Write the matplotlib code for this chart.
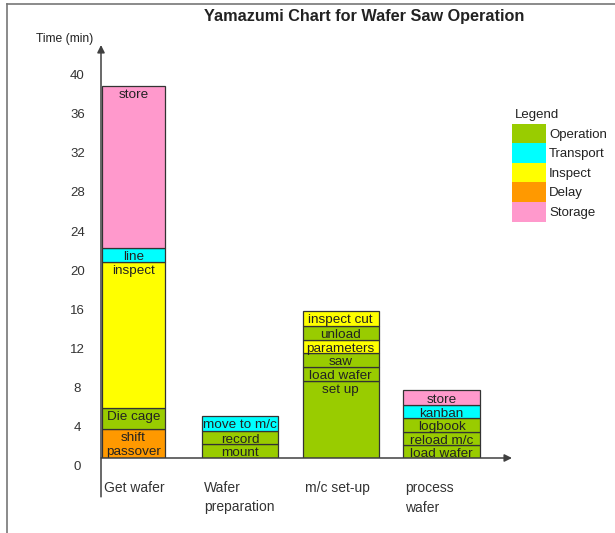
import matplotlib as mpl
import matplotlib.pyplot as plt
from matplotlib.lines import Line2D
from matplotlib.patches import Rectangle
from matplotlib.transforms import ScaledTranslation

mpl.rcParams.update(
    {
        "font.family": ["Liberation Sans", "DejaVu Sans"],
        "font.size": 10,
        "text.color": "#222222",
    }
)

# --- data (bottom -> top of each stack) ------------------------------------
categories = ["Get wafer", "Wafer\npreparation", "m/c set-up", "process\nwafer"]
steps = [
    ["shift\npassover", "Die cage", "inspect", "line", "store"],
    ["mount", "record", "move to m/c"],
    ["set up", "load wafer", "saw", "parameters", "unload", "inspect cut"],
    ["load wafer", "reload m/c", "logbook", "kanban", "store"],
]
kinds = [
    ["Delay", "Operation", "Inspect", "Transport", "Storage"],
    ["Operation", "Operation", "Transport"],
    ["Operation", "Operation", "Operation", "Inspect", "Operation", "Inspect"],
    ["Operation", "Operation", "Operation", "Transport", "Storage"],
]
minutes = [
    [3.0, 2.1, 14.9, 1.5, 16.5],
    [1.4, 1.4, 1.5],
    [7.9, 1.4, 1.45, 1.3, 1.45, 1.55],
    [1.35, 1.35, 1.35, 1.35, 1.5],
]
y_ticks = [0, 4, 8, 12, 16, 20, 24, 28, 32, 36, 40]
legend_kinds = ["Operation", "Transport", "Inspect", "Delay", "Storage"]

COLORS = {
    "Operation": "#99cc00",
    "Transport": "#00ffff",
    "Inspect": "#ffff00",
    "Delay": "#ff9900",
    "Storage": "#ff99cc",
}
BAR_W = [0.63, 0.756, 0.756, 0.766]
EDGE = "#333333"

W, H = 615, 533
fig = plt.figure(figsize=(W / 100, H / 100), dpi=100)
# axes box in pixels: x 101..512, baseline y=458, arrow top y=45
ax = fig.add_axes([101 / W, (H - 458) / H, (512 - 101) / W, (458 - 45) / H])
ax.set_xlim(-0.007, 4.083)
ax.set_ylim(0, 42.2)
for s in ax.spines.values():
    s.set_visible(False)

# stacked segments
for i, (labs, ks, vals) in enumerate(zip(steps, kinds, minutes)):
    bottom = 0.0
    for lab, k, v in zip(labs, ks, vals):
        ax.bar(i, v, width=BAR_W[i], bottom=bottom, align="edge",
               color=COLORS[k], edgecolor=EDGE, linewidth=0.9, zorder=2)
        ax.annotate(lab, xy=(i + BAR_W[i] / 2, bottom + v), xytext=(0, -2.2),
                    textcoords="offset points", ha="center", va="top",
                    fontsize=9.7, linespacing=1.3, zorder=3)
        bottom += v

# axis arrows
arrow = dict(arrowstyle="-|>", color="#404040", lw=1.1, shrinkA=0, shrinkB=0,
             mutation_scale=11)
ax.annotate("", xy=(0, 1), xytext=(0, -0.094), xycoords="axes fraction",
            arrowprops=arrow, annotation_clip=False)
ax.annotate("", xy=(1, 0), xytext=(0, 0), xycoords="axes fraction",
            arrowprops=arrow, annotation_clip=False)

# y ticks: labels sit a little below their value, as in the original
ax.set_yticks(y_ticks)
ax.set_xticks([])
ax.tick_params(axis="y", length=0, pad=17, labelsize=9.5, labelcolor="#333333")
shift = ScaledTranslation(0, -8 / 100, fig.dpi_scale_trans)
for lbl in ax.get_yticklabels():
    lbl.set_horizontalalignment("center")
    lbl.set_transform(lbl.get_transform() + shift)

# category labels under each stack, left aligned to the bar
for i, cat in enumerate(categories):
    ax.annotate(cat, xy=(i, 0), xycoords=("data", "axes fraction"),
                xytext=(2, -23), textcoords="offset pixels", ha="left",
                va="top", fontsize=10, linespacing=1.5, color="#333333")

ax.text(-0.02, 1.0, "Time (min)", transform=ax.transAxes, ha="right",
        va="bottom", fontsize=8.7, color="#222222")

fig.text(364 / W, 1 - 16 / H, "Yamazumi Chart for Wafer Saw Operation",
         ha="center", va="center", fontsize=11.7, fontweight="bold")

# legend: stacked colour swatches, drawn in figure pixels
def fpx(x, y):
    return x / W, 1 - y / H

fig.text(*fpx(515, 115), "Legend", ha="left", va="center", fontsize=9.5)
box_h = 19.5
for j, k in enumerate(legend_kinds):
    top = 124 + j * box_h
    x0, y0 = fpx(512, top + box_h)
    fig.add_artist(Rectangle((x0, y0), 34 / W, box_h / H, transform=fig.transFigure,
                             facecolor=COLORS[k], edgecolor="none"))
    fig.text(*fpx(549, top + box_h / 2 + 1), k, ha="left", va="center", fontsize=9.5)

# outer frame (top + left edges visible in the original)
fig.add_artist(Line2D([7 / W, 7 / W], [0, 1 - 4 / H], color="#777777", lw=1.2))
fig.add_artist(Line2D([7 / W, 1], [1 - 4 / H, 1 - 4 / H], color="#777777", lw=1.2))

fig.savefig("out.png", dpi=100)
